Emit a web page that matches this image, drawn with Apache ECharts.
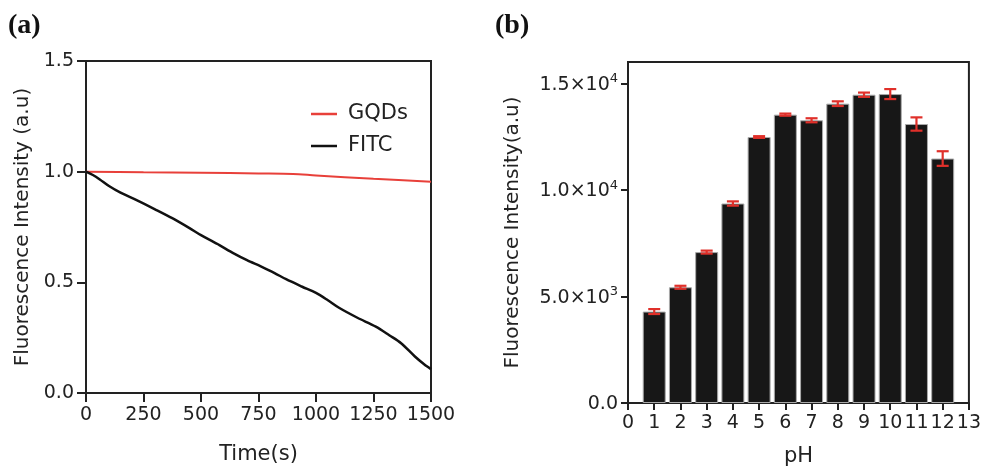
<!DOCTYPE html>
<html><head><meta charset="utf-8">
<script src="https://cdn.jsdelivr.net/npm/echarts@6/dist/echarts.min.js"></script>
<style>html,body{margin:0;padding:0;background:#fff}#c{width:984px;height:475px}</style>
</head><body><div id="c"></div>
<script>
// Panel (a)
const gqdsTime = [0, 250, 500, 750, 900, 1000, 1250, 1500];
const gqdsVal  = [1.0, 0.997, 0.995, 0.992, 0.99, 0.983, 0.968, 0.955];
const fitcTime = [0, 30, 60, 100, 150, 220, 300, 375, 450, 500, 580, 640, 700, 760, 820, 870, 940, 1000, 1050, 1100, 1180, 1260, 1320, 1370, 1430, 1470, 1500];
const fitcVal  = [1.0, 0.985, 0.965, 0.935, 0.905, 0.871, 0.83, 0.79, 0.745, 0.713, 0.668, 0.632, 0.60, 0.572, 0.542, 0.514, 0.48, 0.452, 0.42, 0.385, 0.34, 0.30, 0.26, 0.225, 0.165, 0.13, 0.108];
// Panel (b)
const phValues  = [1, 2, 3, 4, 5, 6, 7, 8, 9, 10, 11, 12];
const intensity = [4290, 5430, 7080, 9360, 12480, 13530, 13265, 14045, 14465, 14495, 13090, 11470];
const errors    = [115, 70, 70, 100, 40, 50, 95, 110, 100, 234, 312, 343];

const FONT = 'DejaVu Sans';
const TXT = '#222';
const chart = echarts.init(document.getElementById('c'), null, {renderer: 'canvas'});

const barData = phValues.map((p, i) => [p, intensity[i]]);
const errData = phValues.map((p, i) => [p, intensity[i] - errors[i], intensity[i] + errors[i]]);

function sciLabel(v) {
  if (v === 0) return '{a|0.0}';
  const e = Math.floor(Math.log10(v));
  const m = (v / Math.pow(10, e)).toFixed(1);
  return '{a|' + m + '×10}{s|' + e + '}';
}

chart.setOption({
  animation: false,
  textStyle: {fontFamily: FONT},
  graphic: [
    {type: 'text', left: 8, top: 12, style: {text: '(a)', font: 'bold 28px "Liberation Serif"', fill: '#111'}},
    {type: 'text', left: 495, top: 12, style: {text: '(b)', font: 'bold 28px "Liberation Serif"', fill: '#111'}}
  ],
  legend: {
    data: [{name: 'GQDs', icon: 'rect'}, {name: 'FITC', icon: 'rect'}],
    orient: 'vertical',
    left: 306, top: 98,
    itemWidth: 26, itemHeight: 2.5, itemGap: 10,
    textStyle: {fontFamily: FONT, fontSize: 21, color: TXT, lineHeight: 22, padding: [0, 0, 0, 6]}
  },
  grid: [
    {left: 86, top: 61, right: 553, bottom: 82, show: true, borderColor: '#222', borderWidth: 2, backgroundColor: 'transparent'},
    {left: 628, top: 62, right: 12, bottom: 72, show: true, borderColor: '#222', borderWidth: 2, backgroundColor: 'transparent'}
  ],
  xAxis: [
    {type: 'value', gridIndex: 0, min: 0, max: 1500, interval: 250,
     name: 'Time(s)', nameLocation: 'middle', nameGap: 51,
     nameTextStyle: {fontFamily: FONT, fontSize: 21, color: TXT, verticalAlign: 'top'},
     axisLine: {lineStyle: {color: '#222', width: 2}},
     axisTick: {inside: false, length: 9, lineStyle: {color: '#222', width: 2}},
     axisLabel: {fontFamily: FONT, fontSize: 19, color: TXT, margin: 13, formatter: v => String(v)},
     splitLine: {show: false}},
    {type: 'value', gridIndex: 1, min: 0, max: 13, interval: 1,
     name: 'pH', nameLocation: 'middle', nameGap: 43,
     nameTextStyle: {fontFamily: FONT, fontSize: 21, color: TXT, verticalAlign: 'top'},
     axisLine: {lineStyle: {color: '#222', width: 2}},
     axisTick: {length: 7, lineStyle: {color: '#222', width: 2}},
     axisLabel: {fontFamily: FONT, fontSize: 19, color: TXT, margin: 11, formatter: v => String(v)},
     splitLine: {show: false}}
  ],
  yAxis: [
    {type: 'value', gridIndex: 0, min: 0, max: 1.5, interval: 0.5,
     name: 'Fluorescence Intensity (a.u)', nameLocation: 'middle', nameGap: 53,
     nameTextStyle: {fontFamily: FONT, fontSize: 20, color: TXT},
     axisLine: {lineStyle: {color: '#222', width: 2}},
     axisTick: {length: 9, lineStyle: {color: '#222', width: 2}},
     axisLabel: {fontFamily: FONT, fontSize: 19, color: TXT, margin: 12, formatter: v => v.toFixed(1)},
     splitLine: {show: false}},
    {type: 'value', gridIndex: 1, min: 0, max: 16000, interval: 5000,
     name: 'Fluorescence Intensity(a.u)', nameLocation: 'middle', nameGap: 105,
     nameTextStyle: {fontFamily: FONT, fontSize: 20, color: TXT},
     axisLine: {lineStyle: {color: '#222', width: 2}},
     axisTick: {length: 7, lineStyle: {color: '#222', width: 2}},
     axisLabel: {margin: 10, formatter: sciLabel,
       rich: {
         a: {fontFamily: FONT, fontSize: 19, color: TXT, lineHeight: 22, verticalAlign: 'bottom'},
         s: {fontFamily: FONT, fontSize: 13, color: TXT, lineHeight: 22, verticalAlign: 'top', padding: [0, 0, 8, 0]}
       }},
     splitLine: {show: false}}
  ],
  series: [
    {name: 'GQDs', type: 'line', xAxisIndex: 0, yAxisIndex: 0, symbol: 'none', smooth: 0.3,
     data: gqdsTime.map((t, i) => [t, gqdsVal[i]]),
     lineStyle: {color: '#e8403a', width: 2}, itemStyle: {color: '#e8403a'}},
    {name: 'FITC', type: 'line', xAxisIndex: 0, yAxisIndex: 0, symbol: 'none', smooth: 0.3,
     data: fitcTime.map((t, i) => [t, fitcVal[i]]),
     lineStyle: {color: '#111', width: 2.5}, itemStyle: {color: '#111'}},
    {name: 'bars', type: 'bar', xAxisIndex: 1, yAxisIndex: 1, barWidth: 23,
     data: barData,
     itemStyle: {color: '#171717', borderColor: '#aaa', borderWidth: 1}},
    {name: 'err', type: 'custom', xAxisIndex: 1, yAxisIndex: 1, z: 10,
     data: errData,
     renderItem: function (params, api) {
       const x = api.value(0), lo = api.value(1), hi = api.value(2);
       const pHi = api.coord([x, hi]);
       const pLo = api.coord([x, lo]);
       const hw = 6;
       const st = {stroke: '#e0302a', lineWidth: 2.2};
       return {type: 'group', children: [
         {type: 'line', shape: {x1: pHi[0], y1: pHi[1], x2: pLo[0], y2: pLo[1]}, style: st},
         {type: 'line', shape: {x1: pHi[0] - hw, y1: pHi[1], x2: pHi[0] + hw, y2: pHi[1]}, style: st},
         {type: 'line', shape: {x1: pLo[0] - hw, y1: pLo[1], x2: pLo[0] + hw, y2: pLo[1]}, style: st}
       ]};
     }}
  ]
});
</script>
</body></html>
